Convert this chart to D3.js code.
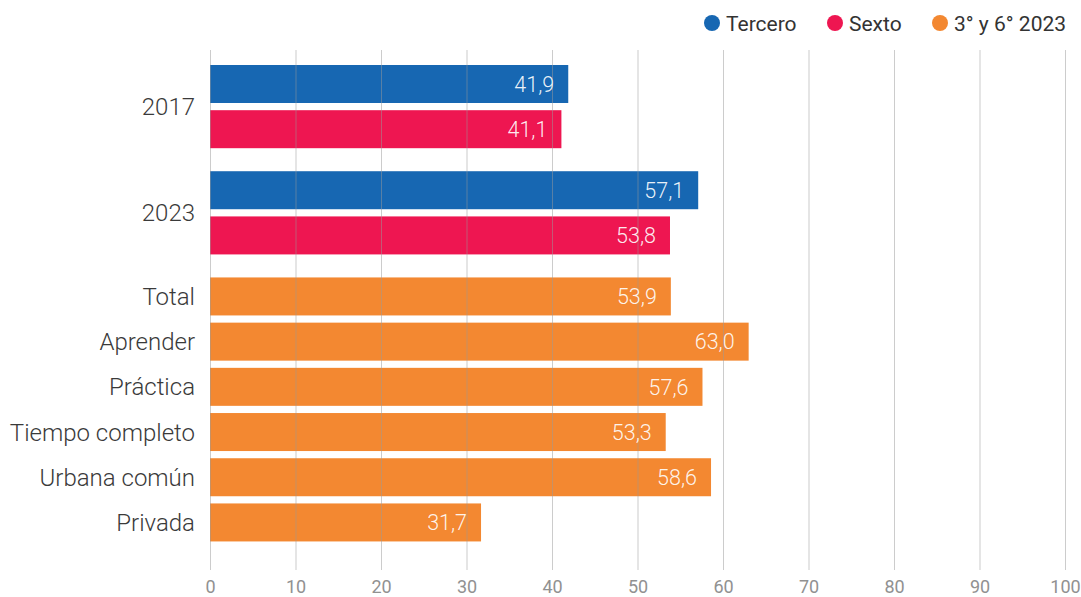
<!DOCTYPE html>
<html><head><meta charset="utf-8">
<script src="https://cdn.jsdelivr.net/npm/d3@7"></script>
<style>
body{margin:0;background:#fff;}
svg{display:block;font-family:Roboto,"Noto Sans",sans-serif;}
</style></head>
<body><svg id="c" width="1081" height="597"></svg>
<script>
// ---- data ----
const groupLabels = ["2017", "2023"];
const seriesNames = ["Tercero", "Sexto", "3° y 6° 2023"];
const tercero = [41.9, 57.1];
const sexto = [41.1, 53.8];
const modalidades = ["Total", "Aprender", "Práctica", "Tiempo completo", "Urbana común", "Privada"];
const modalidadValues = [53.9, 63.0, 57.6, 53.3, 58.6, 31.7];
const xTicks = [0, 10, 20, 30, 40, 50, 60, 70, 80, 90, 100];
const colors = ["#1767b2", "#ee1651", "#f38831"];

// ---- layout ----
const svg = d3.select("#c");
const left = 210, right = 1065, top0 = 65, step = 45.2, barH = 38, groupGap = 0.35;
const x = d3.scaleLinear().domain([0, 100]).range([left, right]);
const y = d3.scaleLinear().domain([0, 1]).range([top0, top0 + step]);

const rows = [];
const catLabels = [];
let slot = 0;
groupLabels.forEach((g, i) => {
  rows.push({slot: slot, value: tercero[i], color: colors[0]});
  rows.push({slot: slot + 1, value: sexto[i], color: colors[1]});
  catLabels.push({label: g, slot: (slot + slot + 1 + barH / step) / 2});
  slot += 2 + groupGap;
});
modalidades.forEach((m, i) => {
  rows.push({slot: slot, value: modalidadValues[i], color: colors[2]});
  catLabels.push({label: m, slot: slot + barH / step / 2});
  slot += 1;
});

// bars
svg.append("g").selectAll("rect").data(rows).join("rect")
  .attr("x", x(0)).attr("y", d => y(d.slot))
  .attr("width", d => x(d.value) - x(0)).attr("height", barH)
  .attr("fill", d => d.color);

// gridlines over bars
svg.append("g").selectAll("line").data(xTicks).join("line")
  .attr("x1", d => x(d) + 0.5).attr("x2", d => x(d) + 0.5)
  .attr("y1", 50).attr("y2", 570)
  .attr("stroke", "#999").attr("stroke-opacity", 0.5).attr("stroke-width", 1);

// x axis tick labels
const xAxis = d3.axisBottom(x).tickValues(xTicks).tickSize(0).tickPadding(0);
const ax = svg.append("g").attr("transform", "translate(0,580)").call(xAxis);
ax.select(".domain").remove();
ax.selectAll("text").attr("font-size", 18).attr("fill", "#919191")
  .attr("font-family", "Roboto, sans-serif").attr("dy", "0.71em");

// value labels
svg.append("g").selectAll("text").data(rows).join("text")
  .attr("x", d => x(d.value) - 14).attr("y", d => y(d.slot) + barH / 2)
  .attr("dy", "0.36em").attr("text-anchor", "end")
  .attr("font-size", 21.5).attr("font-weight", 300).attr("fill", "#fff").attr("fill-opacity", 0.92)
  .text(d => d3.format(".1f")(d.value).replace(".", ","));

// category labels
svg.append("g").selectAll("text").data(catLabels).join("text")
  .attr("x", 195).attr("y", d => y(d.slot))
  .attr("dy", "0.36em").attr("text-anchor", "end")
  .attr("font-size", 24).attr("font-weight", 300).attr("fill", "#3a3a3a")
  .text(d => d.label);

// legend
const legX = [712, 835, 940];
const lg = svg.append("g").selectAll("g").data(seriesNames).join("g")
  .attr("transform", (d, i) => `translate(${legX[i]},23)`);
lg.append("circle").attr("r", 8).attr("fill", (d, i) => colors[i]);
lg.append("text").attr("x", 14).attr("dy", "0.36em")
  .attr("font-size", 21).attr("font-weight", 400).attr("fill", "#333").text(d => d);
</script></body></html>
